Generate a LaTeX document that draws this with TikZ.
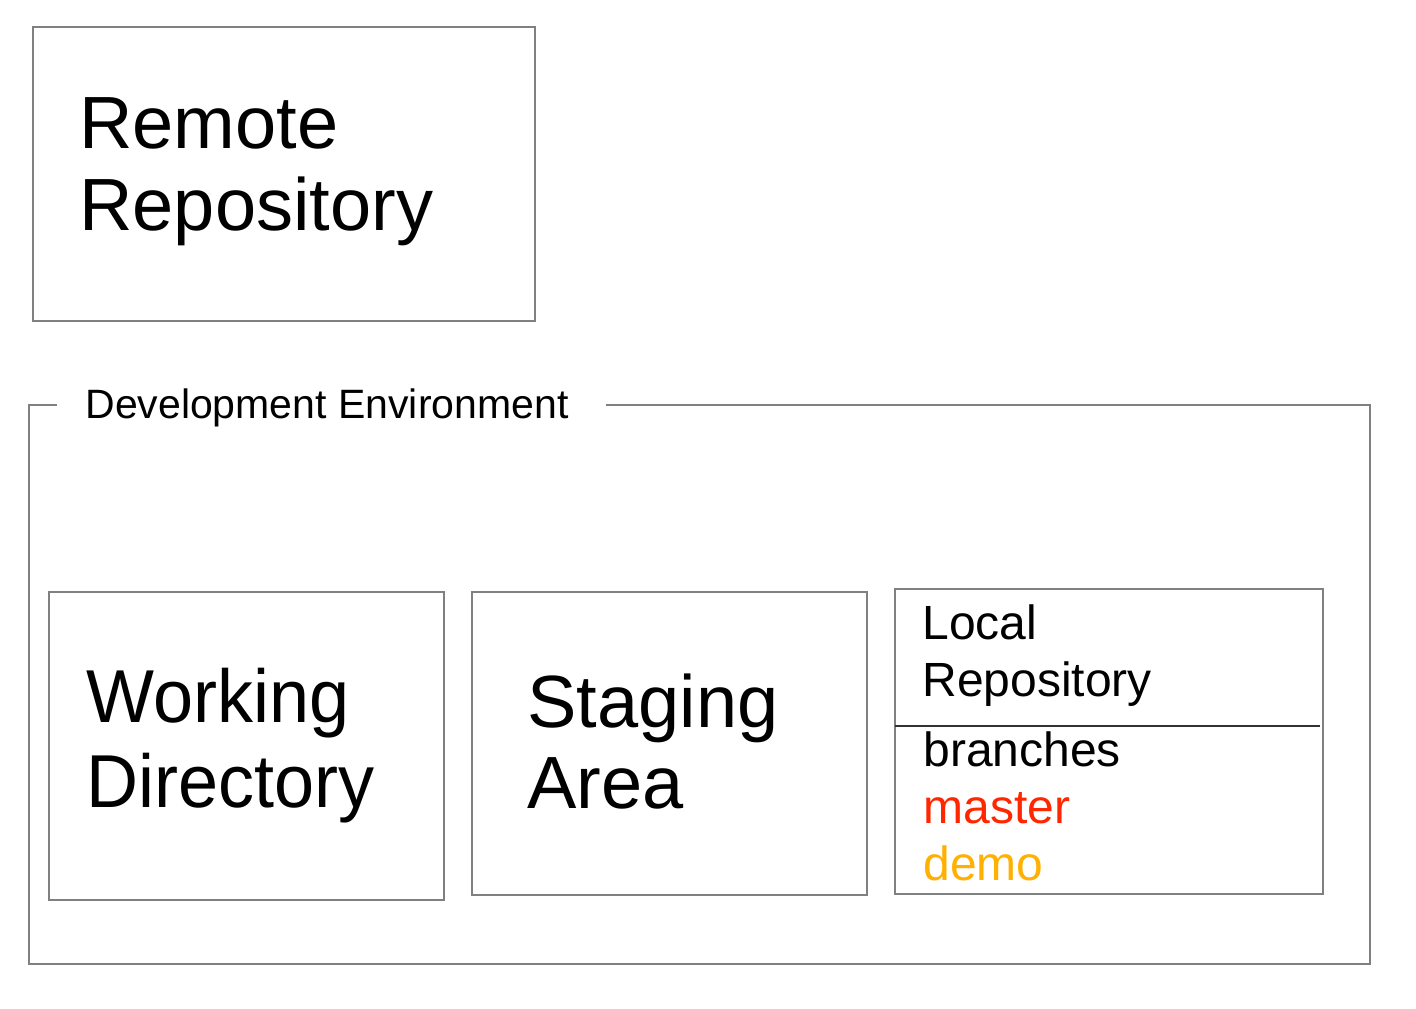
\documentclass[tikz,border=0pt]{standalone}
\usepackage{fontspec}
\setmainfont{Liberation Sans}
\newfontfamily\narrowsans[FakeStretch=0.96]{Liberation Sans}
\definecolor{framegray}{RGB}{128,128,128}
\definecolor{dividergray}{RGB}{50,50,50}
\definecolor{masterred}{RGB}{255,38,0}
\definecolor{demoamber}{RGB}{255,176,0}
\tikzstyle{store}=[draw=framegray, line width=1pt, inner sep=0pt, outer sep=0pt]
\tikzstyle{store label}=[inner sep=0pt, anchor=base west, align=left]
\tikzstyle{big label}=[store label, font=\fontsize{37}{41}\selectfont]
\tikzstyle{narrow label}=[store label, font=\narrowsans\fontsize{37.5}{42.5}\selectfont]
\tikzstyle{small label}=[store label, font=\fontsize{24}{28.4}\selectfont]

\begin{document}
\begin{tikzpicture}[x=0.5pt, y=-0.5pt]
  \useasboundingbox (0,0) rectangle (1416,1008);
  % remote side
  \node[store, minimum width=251pt, minimum height=147pt] (remote) at (284,174) {};
  \node[big label] (remote text) at (79,230) {Remote\\Repository};
  % development environment, frame open at its label
  \draw[store] (57,405) -- (29,405) -- (29,964) -- (1370,964) -- (1370,405) -- (606,405);
  \node[store label, font=\fontsize{20.5}{24}\selectfont] (dev text) at (85,418) {Development Environment};
  % the three stores
  \node[store, minimum width=197.5pt, minimum height=154pt] (working) at (246.5,746) {};
  \node[narrow label] (working text) at (86,807) {Working\\Directory};
  \node[store, minimum width=197.5pt, minimum height=151.5pt] (staging) at (669.5,743.5) {};
  \node[store label, font=\fontsize{37}{40.5}\selectfont] (staging text) at (527,808) {Staging\\Area};
  \node[store, minimum width=214pt, minimum height=152.5pt] (local) at (1109,741.5) {};
  \node[small label] (local text) at (922,696) {Local\\Repository};
  \draw[draw=dividergray, line width=1.25pt] (local.west |- 0,726) -- (1320,726);
  \node[small label] (branch text) at (923,880)
    {branches\\\textcolor{masterred}{master}\\\textcolor{demoamber}{demo}};
\end{tikzpicture}
\end{document}
